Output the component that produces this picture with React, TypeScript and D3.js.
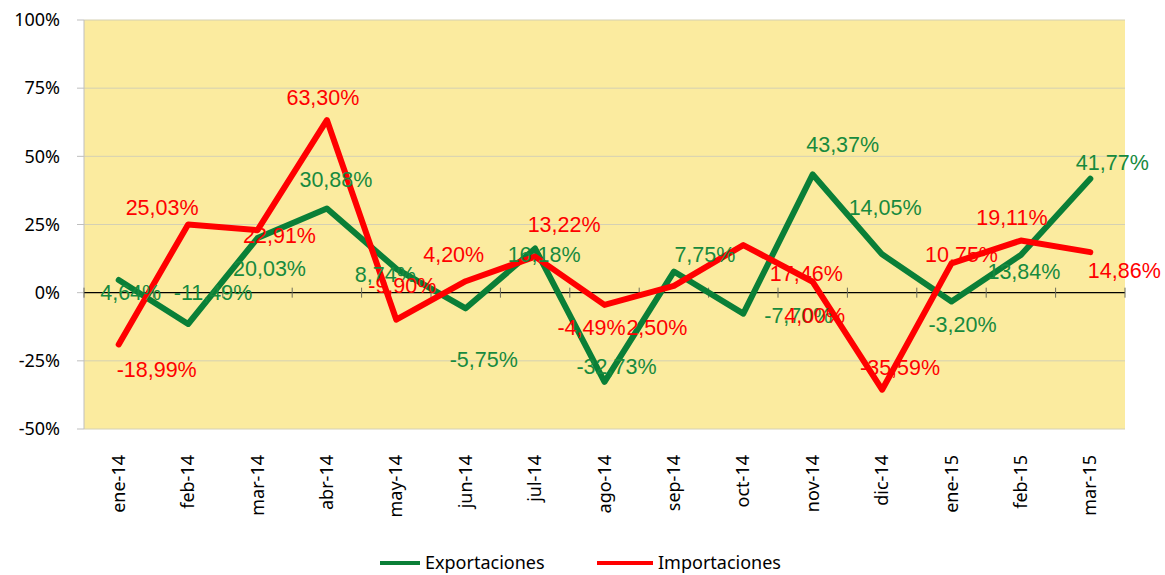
import React from 'react';
import * as d3 from 'd3';

// months on the x axis
const months = ['ene-14', 'feb-14', 'mar-14', 'abr-14', 'may-14', 'jun-14', 'jul-14', 'ago-14', 'sep-14', 'oct-14', 'nov-14', 'dic-14', 'ene-15', 'feb-15', 'mar-15'];

// year-on-year change, percent
const exportaciones = [4.64, -11.49, 20.03, 30.88, 8.74, -5.75, 16.18, -32.73, 7.75, -7.7, 43.37, 14.05, -3.2, 13.84, 41.77];
const importaciones = [-18.99, 25.03, 22.91, 63.3, -9.9, 4.2, 13.22, -4.49, 2.5, 17.46, 4.0, -35.59, 10.75, 19.11, 14.86];

const yTicks = [-50, -25, 0, 25, 50, 75, 100];

// label offsets from each point (dx, dy), copied off the spreadsheet layout
const expLabelOffsets = [[12, 12], [25, -32], [12, 30], [9, -29], [-11, 6], [18, 51], [9, 6], [12, -15], [31, -17], [55, 2], [30, -30], [3, -47], [11, 23], [3, 17], [22, -16]];
const impLabelOffsets = [[38, 25], [-26, -17], [22, 5], [-4, -23], [6, -34], [-12, -27], [29, -32], [-13, 23], [-17, 42], [63, 28], [2, 34], [18, -22], [10, -9], [-9, -23], [34, 18]];

const GREEN = '#0a7f37';
const RED = '#ff0000';
const labelFont = '"Liberation Sans", Arial, sans-serif';
const axisFont = '"Noto Sans", "Open Sans", sans-serif';

const fmt = (v: number) => v.toFixed(2).replace('.', ',') + '%';

export default function App() {
  const width = 1165;
  const height = 575;
  const plot = { left: 84, right: 1125, top: 20, bottom: 429 };

  const x = d3.scaleBand<string>().domain(months).range([plot.left, plot.right]);
  const y = d3.scaleLinear().domain([-50, 100]).range([plot.bottom, plot.top]);
  const cx = (m: string) => (x(m) as number) + x.bandwidth() / 2;

  const line = d3.line<number>()
    .x((d, i) => cx(months[i]))
    .y((d) => y(d));

  const series = [
    { name: 'Exportaciones', values: exportaciones, color: GREEN, offsets: expLabelOffsets },
    { name: 'Importaciones', values: importaciones, color: RED, offsets: impLabelOffsets },
  ];

  const boundaries = d3.range(months.length + 1).map((i) => plot.left + i * x.bandwidth());

  return (
    <svg width={width} height={height} style={{ position: 'absolute', left: 0, top: 0 }}>
      <rect x={0} y={0} width={width} height={height} fill="#ffffff" />
      <rect x={plot.left} y={plot.top} width={plot.right - plot.left} height={plot.bottom - plot.top} fill="#fbeb9f" />

      {/* gridlines + y ticks */}
      {yTicks.map((t) => (
        <g key={t}>
          {t !== 0 && (
            <line x1={plot.left} x2={plot.right} y1={y(t)} y2={y(t)} stroke="#d4d0b4" strokeWidth={1} />
          )}
          <line x1={plot.left - 7} x2={plot.left} y1={y(t)} y2={y(t)} stroke="#bfbfbf" strokeWidth={1} />
          <text x={plot.left - 24} y={y(t)} dy="0.35em" textAnchor="end" fontFamily={axisFont} fontSize={18} fill="#000">
            {t + '%'}
          </text>
        </g>
      ))}
      <line x1={plot.left} x2={plot.left} y1={plot.top} y2={plot.bottom} stroke="#bfbfbf" strokeWidth={1} />

      {/* zero axis with category ticks */}
      <line x1={plot.left} x2={plot.right} y1={y(0)} y2={y(0)} stroke="#000" strokeWidth={1.2} />
      {boundaries.map((bx, i) => (
        <line key={i} x1={bx} x2={bx} y1={y(0) - 5} y2={y(0) + 5} stroke="#6d6d5a" strokeWidth={1} />
      ))}

      {/* x labels */}
      {months.map((m) => (
        <text
          key={m}
          transform={`translate(${cx(m) + 6},${plot.bottom + 26}) rotate(-90)`}
          textAnchor="end"
          fontFamily={axisFont}
          fontSize={18}
          fill="#000"
        >
          {m}
        </text>
      ))}

      {/* lines */}
      {series.map((s) => (
        <path key={s.name} d={line(s.values) || ''} fill="none" stroke={s.color} strokeWidth={6} strokeLinejoin="round" strokeLinecap="round" />
      ))}

      {/* data labels */}
      {series.map((s) => (
        <g key={s.name + '-labels'}>
          {s.values.map((v, i) => (
            <text
              key={i}
              x={cx(months[i]) + s.offsets[i][0]}
              y={y(v) + s.offsets[i][1]}
              dy="0.35em"
              textAnchor="middle"
              fontFamily={labelFont}
              fontSize={21.5}
              fill={s.color === GREEN ? '#178a3e' : RED}
            >
              {fmt(v)}
            </text>
          ))}
        </g>
      ))}

      {/* legend */}
      <g fontFamily={axisFont} fontSize={18}>
        <line x1={380} x2={420} y1={563} y2={563} stroke={GREEN} strokeWidth={4} />
        <text x={425} y={563} dy="0.35em" fill="#000">Exportaciones</text>
        <line x1={597} x2={653} y1={563} y2={563} stroke={RED} strokeWidth={4} />
        <text x={658} y={563} dy="0.35em" fill="#000">Importaciones</text>
      </g>
    </svg>
  );
}
